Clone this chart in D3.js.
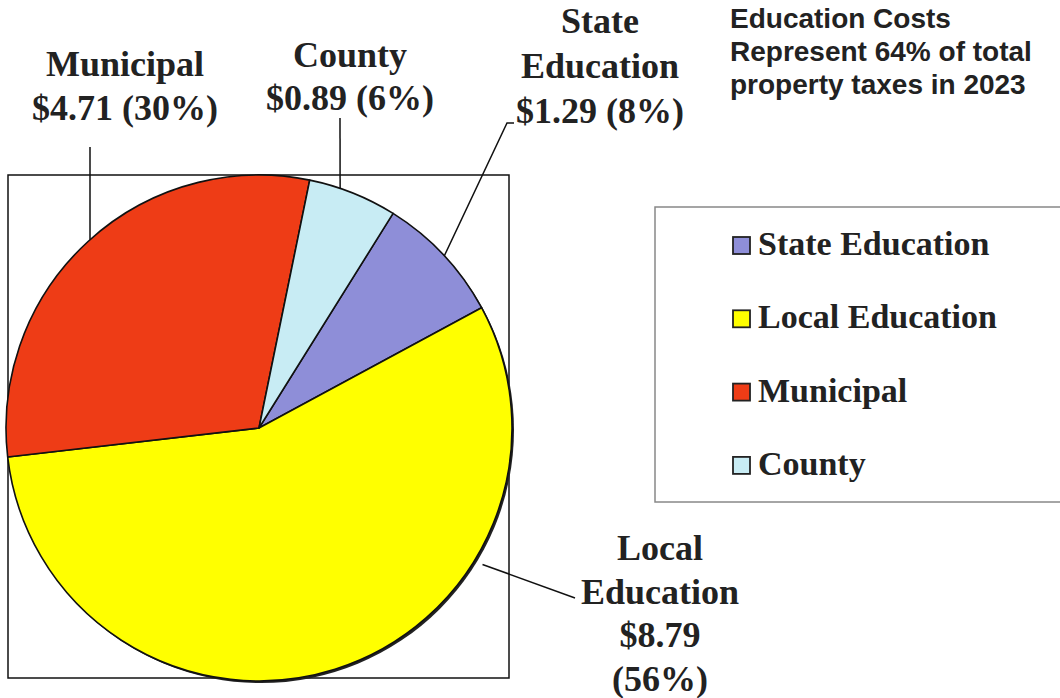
<!DOCTYPE html>
<html>
<head>
<meta charset="utf-8">
<script src="https://cdn.jsdelivr.net/npm/d3@7"></script>
<style>
  body { margin: 0; background: #fff; }
  svg { display: block; }
</style>
</head>
<body>
<svg id="chart" width="1060" height="698"></svg>
<script>
// data
var categories = ['State Education', 'Local Education', 'Municipal', 'County'];
var values = [1.29, 8.79, 4.71, 0.89];
var colors = ['#8e8ed8', '#ffff00', '#ee3c16', '#c8ecf4'];
var titleLines = ['Education Costs', 'Represent 64% of total', 'property taxes in 2023'];

var svg = d3.select('#chart');
var cx = 259, cy = 428, r = 253;
var total = d3.sum(values);

// plot area frame
svg.append('rect')
    .attr('x', 8).attr('y', 175)
    .attr('width', 501).attr('height', 503)
    .attr('fill', 'none')
    .attr('stroke', '#111')
    .attr('stroke-width', 1.5);

var pie = d3.pie()
    .sort(null)
    .startAngle(32 * Math.PI / 180)
    .endAngle(32 * Math.PI / 180 + 2 * Math.PI);

var arc = d3.arc().innerRadius(0).outerRadius(r);

var g = svg.append('g').attr('transform', 'translate(' + cx + ',' + cy + ')');

// little shadow on the lower right edge
g.append('circle')
    .attr('cx', 2).attr('cy', 2).attr('r', r)
    .attr('fill', '#222');

g.selectAll('path.slice')
    .data(pie(values))
    .enter()
    .append('path')
    .attr('class', 'slice')
    .attr('d', arc)
    .attr('fill', function (d, i) { return colors[i]; })
    .attr('stroke', '#111')
    .attr('stroke-width', 1.6)
    .attr('stroke-linejoin', 'round');

// label text for each slice
function pct(v) { return Math.round(v / total * 100) + '%'; }
function money(v) { return '$' + v.toFixed(2); }

var labelLines = [
    ['State', 'Education', money(values[0]) + ' (' + pct(values[0]) + ')'],
    ['Local', 'Education', money(values[1]), '(' + pct(values[1]) + ')'],
    ['Municipal', money(values[2]) + ' (' + pct(values[2]) + ')'],
    ['County', money(values[3]) + ' (' + pct(values[3]) + ')']
];

// where each label sits and where its leader touches the pie
var labelPos = [
    { x: 600, y: 33, dy: 45, ang: 47.1, rr: 1.0, pts: [[514, 123], [507, 123]] },
    { x: 660, y: 560, dy: 43.5, ang: 121.4, rr: 1.035, pts: [[575, 598]] },
    { x: 125, y: 76, dy: 44, ang: 318.1, rr: 1.0, pts: [[90, 147]] },
    { x: 350, y: 67, dy: 43, ang: 18.7, rr: 1.0, pts: [[340, 118]] }
];

labelPos.forEach(function (p, i) {
    var a = p.ang * Math.PI / 180;
    var px = cx + Math.sin(a) * r * p.rr;
    var py = cy - Math.cos(a) * r * p.rr;
    var linePts = p.pts.concat([[px, py]]);
    svg.append('path')
        .attr('d', d3.line()(linePts))
        .attr('fill', 'none')
        .attr('stroke', '#111')
        .attr('stroke-width', 1.5);

    var t = svg.append('text')
        .attr('text-anchor', 'middle')
        .attr('font-family', '"Liberation Serif", "Times New Roman", serif')
        .attr('font-weight', 'bold')
        .attr('font-size', 36)
        .attr('fill', '#222');
    labelLines[i].forEach(function (line, j) {
        t.append('tspan')
            .attr('x', p.x)
            .attr('y', p.y + j * p.dy)
            .text(line);
    });
});

// title in top right
var title = svg.append('text')
    .attr('font-family', '"Liberation Sans", Arial, sans-serif')
    .attr('font-weight', 'bold')
    .attr('font-size', 28)
    .attr('fill', '#222');
titleLines.forEach(function (line, j) {
    title.append('tspan')
        .attr('x', 730)
        .attr('y', 28 + j * 33)
        .text(line);
});

// legend
svg.append('rect')
    .attr('x', 655).attr('y', 207)
    .attr('width', 430).attr('height', 295)
    .attr('fill', 'none')
    .attr('stroke', '#888')
    .attr('stroke-width', 1.5);

var legend = svg.selectAll('g.legend')
    .data(categories)
    .enter()
    .append('g')
    .attr('class', 'legend')
    .attr('transform', function (d, i) { return 'translate(733,' + (255 + i * 73.3) + ')'; });

legend.append('rect')
    .attr('x', 0).attr('y', -18)
    .attr('width', 17).attr('height', 17)
    .attr('fill', function (d, i) { return colors[i]; })
    .attr('stroke', '#222')
    .attr('stroke-width', 1.8);

legend.append('text')
    .attr('x', 25)
    .attr('y', 0)
    .attr('font-family', '"Liberation Serif", "Times New Roman", serif')
    .attr('font-weight', 'bold')
    .attr('font-size', 34)
    .attr('fill', '#222')
    .text(function (d) { return d; });
</script>
</body>
</html>
